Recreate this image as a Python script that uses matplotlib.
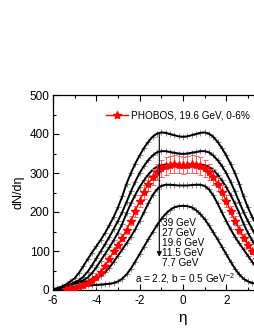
import numpy as np
import matplotlib
matplotlib.use("Agg")
import matplotlib.pyplot as plt
from matplotlib.ticker import MultipleLocator

plt.rcParams['font.family'] = ['Liberation Sans', 'DejaVu Sans']
plt.rcParams['mathtext.fontset'] = 'custom'
plt.rcParams['mathtext.rm'] = 'Liberation Sans'

# model pseudorapidity grid
eta_model = np.round(np.linspace(-6, 6, 61), 1)

dn_39 = [2,5,9,14,22,30,44,61,79,96,112,128,146,166,187,212,240,273,300,324,345,364,380,393,401,404,403,400,397,394,
         393,
         394,397,400,403,404,401,393,380,364,345,324,300,273,240,212,187,166,146,128,112,96,79,61,44,30,22,14,9,5,2]
dn_27 = [1,3,6,10,15,20,25,34,47,63,81,99,117,136,156,177,200,226,253,278,300,318,333,345,353,356,356,354,352,350,
         349,
         350,352,354,356,356,353,345,333,318,300,278,253,226,200,177,156,136,117,99,81,63,47,34,25,20,15,10,6,3,1]
dn_19 = [1,3,5,9,13,18,21,25,32,43,58,75,92,109,127,147,170,197,222,244,264,281,296,308,316,320,322,321,320,319,
         318,
         319,320,321,322,320,316,308,296,281,264,244,222,197,170,147,127,109,92,75,58,43,32,25,21,18,13,9,5,3,1]
dn_11 = [1,3,5,8,12,16,19,21,22,25,30,36,45,57,72,88,104,120,137,156,177,199,222,243,258,267,270,270,269,268,
         268,
         268,269,270,270,267,258,243,222,199,177,156,137,120,104,88,72,57,45,36,30,25,22,21,19,16,12,8,5,3,1]
dn_7 = [1,2,3,4,6,8,10,11,12,12,13,14,15,16,18,22,29,40,55,73,92,111,130,148,166,182,195,205,212,215,
        216,
        215,212,205,195,182,166,148,130,111,92,73,55,40,29,22,18,16,15,14,13,12,12,11,10,8,6,4,3,2,1]
model_curves = [dn_39, dn_27, dn_19, dn_11, dn_7]
energy_labels = ["39 GeV", "27 GeV", "19.6 GeV", "11.5 GeV", "7.7 GeV"]

# PHOBOS data
eta_data = np.round(np.linspace(-5.4, 5.4, 55), 1)
dn_data = [2,4,6,9,13,18,25,34,46,62,80,99,116,134,155,178,202,228,252,272,290,302,312,318,321,322,321,
           320,
           321,322,321,318,312,302,290,272,252,228,202,178,155,134,116,99,80,62,46,34,25,18,13,9,6,4,2]
dn_err = [0.2,0.3,0.5,1,1,1,2,2,3,4,6,7,8,9,11,12,14,16,18,19,20,21,22,22,22,23,22,
          22,
          22,23,22,22,22,21,20,19,18,16,14,12,11,9,8,7,6,4,3,2,2,1,1,1,0.5,0.3,0.2]

W, H = 255, 330
fig = plt.figure(figsize=(W/100, H/100), dpi=100)
x0, y0 = 53, 290
px_per_eta = 21.65
ax = fig.add_axes([x0/W, (H-y0)/H, 12*px_per_eta/W, 195/H])

for vals in model_curves:
    ax.plot(eta_model, vals, color='black', lw=1.4, zorder=3)
    ax.plot(eta_model, vals, ls='none', marker='+', ms=4, mew=0.7, color='#8a8a8a', zorder=2)

ax.errorbar(eta_data, dn_data, yerr=dn_err, fmt='none', ecolor='#ff6060', elinewidth=0.7,
            capsize=1.8, capthick=0.7, zorder=4)
ax.plot(eta_data, dn_data, color='red', lw=1.0, marker='*', ms=6, mec='red', mfc='red',
        zorder=5, label='PHOBOS, 19.6 GeV, 0-6%')

ax.set_xlim(-6, 6)
ax.set_ylim(0, 500)
ax.xaxis.set_major_locator(MultipleLocator(2))
ax.xaxis.set_minor_locator(MultipleLocator(1))
ax.yaxis.set_major_locator(MultipleLocator(100))
ax.yaxis.set_minor_locator(MultipleLocator(50))
ax.tick_params(which='both', direction='in', top=True, right=False, labelsize=8.5, width=0.8)
ax.tick_params(axis='x', pad=3.5)
ax.tick_params(axis='y', pad=2.5)
ax.tick_params(which='major', length=4)
ax.tick_params(which='minor', length=2)
ax.set_xticks([-6, -4, -2, 0, 2])
ax.set_xticklabels(['-6', '-4', '-2', '0', '2'])
for s in ax.spines.values():
    s.set_linewidth(0.9)
ax.spines['right'].set_visible(False)

ax.set_xlabel('η', fontsize=11, labelpad=3)
ax.set_ylabel('dN/dη', fontsize=9, labelpad=4)

ax.annotate('', xy=(-1.09, 78), xytext=(-1.09, 405),
            arrowprops=dict(arrowstyle='-|>', lw=0.8, color='black', mutation_scale=7), zorder=6)
ys = [172, 146, 120, 94, 68]
for lab, yv in zip(energy_labels, ys):
    ax.text(-0.97, yv, lab, fontsize=7.2, va='center', ha='left', zorder=7)
ax.text(-2.2, 28, 'a = 2.2, b = 0.5 GeV$^{-2}$', fontsize=7.2, va='center', ha='left', zorder=7)

leg = ax.legend(loc='center left', bbox_to_anchor=(-3.55, 447), bbox_transform=ax.transData,
                frameon=False, fontsize=7.2, handlelength=2.2, handletextpad=0.3,
                borderpad=0, borderaxespad=0)

fig.savefig('out.png', dpi=100)
